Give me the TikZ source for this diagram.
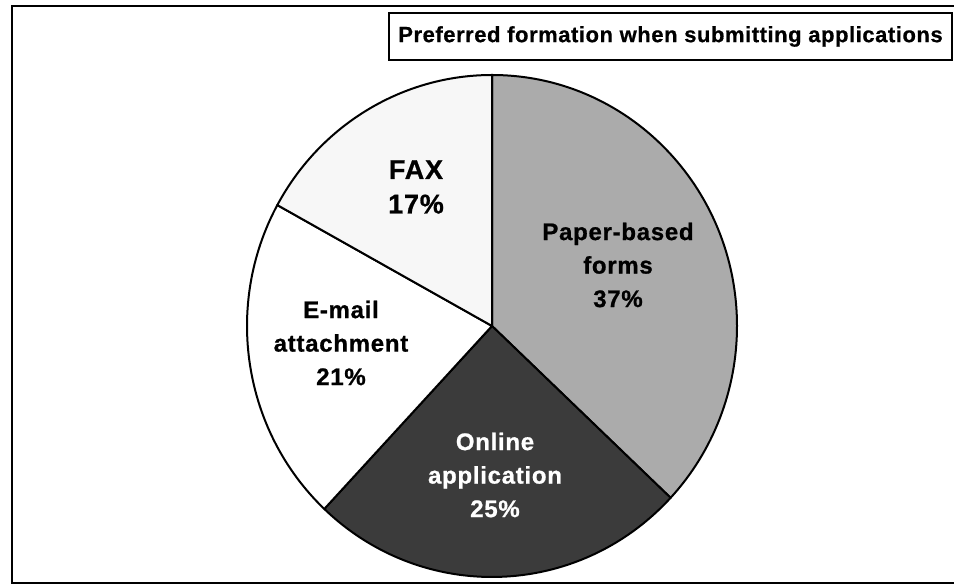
\documentclass[tikz,border=0pt]{standalone}
\usepackage{fontspec}
\setmainfont{Liberation Sans}
\newfontfamily\labelfont[LetterSpace=3,FakeBold=0.8]{Liberation Sans}
\newfontfamily\titlefont[LetterSpace=2.5,FakeBold=0.6]{Liberation Sans}

\definecolor{paperfill}{gray}{0.67}
\definecolor{onlinefill}{gray}{0.23}
\definecolor{faxfill}{gray}{0.97}
\definecolor{mailfill}{gray}{1.0}

\tikzset{
  frame/.style={draw=black, line width=2},
  slice/.style={draw=black, line width=2, line join=round},
  pieradius/.style={x radius=245, y radius=251},
  slicelabel/.style={align=center, inner sep=0,
    font=\labelfont\bfseries\fontsize{24}{33.5}\selectfont},
  biglabel/.style={align=center, inner sep=0,
    font=\labelfont\bfseries\fontsize{27}{34.5}\selectfont},
  titlebox/.style={draw=black, line width=1.5, fill=white, inner sep=0,
    minimum width=563, minimum height=47,
    font=\titlefont\bfseries\fontsize{22}{26}\selectfont}
}

\begin{document}
\begin{tikzpicture}[x=1pt, y=1pt]
  \useasboundingbox (0,0) rectangle (954,586);
  \fill[white] (0,0) rectangle (954,586);

  % outer chart frame (runs past the right edge)
  \draw[frame] (12,3) rectangle (975,580);

  % pie chart, clockwise from twelve o'clock
  \coordinate (c) at (492,260);
  \filldraw[slice, fill=paperfill]  (c) -- ++(90:245 and 251)
    arc[start angle=90, end angle=-43.2, pieradius] -- cycle;
  \filldraw[slice, fill=onlinefill] (c) -- ++(-43.2:245 and 251)
    arc[start angle=-43.2, end angle=-133.2, pieradius] -- cycle;
  \filldraw[slice, fill=mailfill]   (c) -- ++(-133.2:245 and 251)
    arc[start angle=-133.2, end angle=-208.8, pieradius] -- cycle;
  \filldraw[slice, fill=faxfill]    (c) -- ++(-208.8:245 and 251)
    arc[start angle=-208.8, end angle=-270, pieradius] -- cycle;

  % slice labels
  \node[biglabel]  (fax)    at (416,399) {FAX\\17\%};
  \node[slicelabel] (email)  at (341,243) {E-mail\\attachment\\21\%};
  \node[slicelabel] (paper)  at (618,321) {Paper-based\\forms\\37\%};
  \node[slicelabel, text=white] (online) at (495,111) {Online\\application\\25\%};

  % chart title
  \node[titlebox] (title) at (670.5,549.5) {Preferred formation when submitting applications};
\end{tikzpicture}
\end{document}
